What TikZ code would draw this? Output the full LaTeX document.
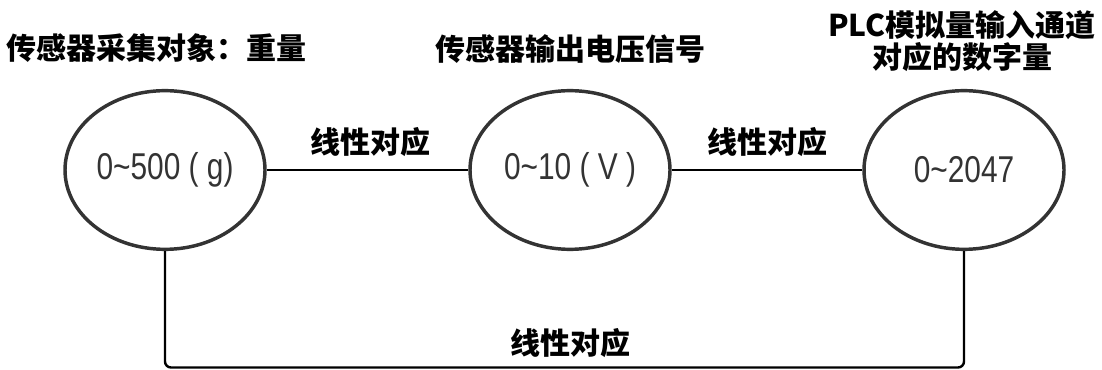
\documentclass[tikz,border=0pt]{standalone}
\usepackage{fontspec}
\setmainfont{Liberation Sans}
\newfontfamily\cjk{Noto Sans CJK SC}
\newfontfamily\numfont[FakeStretch=0.8]{Liberation Sans}
\usetikzlibrary{shapes.geometric}
\definecolor{edgegray}{HTML}{333333}
\tikzset{
  valnode/.style={ellipse, draw=edgegray, line width=2.6pt, inner sep=0pt,
    minimum width=150pt, minimum height=119pt, text=edgegray,
    font=\numfont\fontsize{28pt}{30pt}\selectfont},
  titlenode/.style={inner sep=0pt, align=center, text=black,
    font=\cjk\bfseries\fontsize{22.5pt}{24pt}\selectfont},
  linklabel/.style={inner sep=0pt, text=black,
    font=\cjk\bfseries\fontsize{22.5pt}{24pt}\selectfont},
  link/.style={draw=black, line width=2.1pt},
  baselink/.style={draw=black, line width=1.8pt, rounded corners=4.5pt}
}
\begin{document}
\begin{tikzpicture}[x=0.75pt,y=-0.75pt]
\useasboundingbox (0,0) rectangle (1102,370);
\node[valnode] (w) at (165,170) {0\char"7E 500 ( g)};
\node[valnode] (v) at (570,170) {0\char"7E 10 ( V )};
\node[valnode] (d) at (964,170) {0\char"7E 2047};
\node[titlenode] (tw) at (157,48) {传感器采集对象：重量};
\node[titlenode] (tv) at (570,49) {传感器输出电压信号};
\node[titlenode] (td) at (962,41) {PLC模拟量输入通道\\对应的数字量};
\draw[link] (w) -- (v);
\draw[link] (v) -- (d);
\node[linklabel] (l1) at (370,142) {线性对应};
\node[linklabel] (l2) at (767,142) {线性对应};
\coordinate (bot) at (565,367.5);
\draw[baselink] (w.south) -- (w.south |- bot) -- (d.south |- bot) -- (d.south);
\node[linklabel] (l3) at (570,343) {线性对应};
\end{tikzpicture}
\end{document}
